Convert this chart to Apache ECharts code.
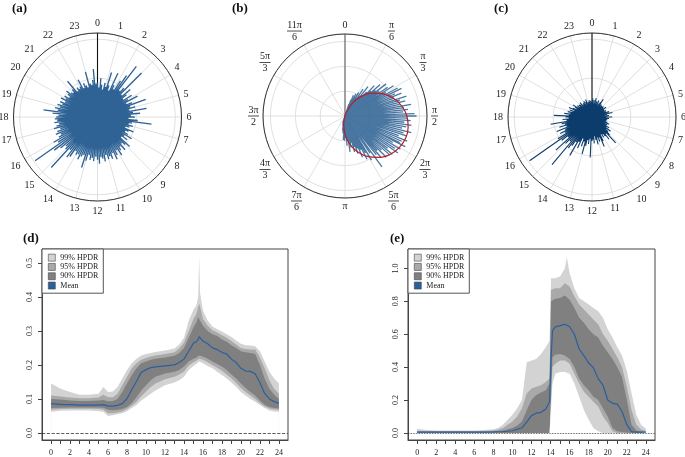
<!DOCTYPE html>
<html><head><meta charset="utf-8">
<script src="https://cdn.jsdelivr.net/npm/echarts@6/dist/echarts.min.js"></script>
<style>html,body{margin:0;padding:0;background:#fff}#c{width:685px;height:457px}</style>
</head><body><div id="c"></div><script>
// ---------- DATA ----------
// (a) spike lengths, 6 bins per hour (10-min bins), hours 0..23
const aRadii = [
 0.44,0.38,0.50,0.42,0.36,0.45, 0.40,0.60,0.43,0.37,0.62,0.46, 0.41,0.55,0.65,0.82,0.44,0.50,
 0.80,0.42,0.55,0.47,0.40,0.52, 0.45,0.58,0.41,0.48,0.66,0.44, 0.50,0.42,0.64,0.46,0.55,0.43,
 0.48,0.40,0.52,0.70,0.45,0.41, 0.47,0.43,0.38,0.50,0.44,0.40, 0.45,0.52,0.42,0.48,0.40,0.56,
 0.50,0.46,0.55,0.48,0.52,0.58, 0.49,0.55,0.60,0.50,0.57,0.53, 0.56,0.50,0.58,0.54,0.52,0.60,
 0.55,0.51,0.57,0.53,0.56,0.50, 0.58,0.68,0.52,0.55,0.60,0.54, 0.56,0.52,0.62,0.65,0.55,0.88,
 0.58,0.55,0.62,0.70,0.98,0.60, 0.65,0.56,0.52,0.58,0.55,0.50, 0.58,0.54,0.50,0.56,0.52,0.55,
 0.53,0.50,0.58,0.70,0.52,0.56, 0.50,0.54,0.48,0.52,0.46,0.53, 0.47,0.50,0.44,0.48,0.52,0.46,
 0.44,0.48,0.60,0.42,0.46,0.43, 0.45,0.54,0.41,0.47,0.43,0.40, 0.60,0.44,0.42,0.48,0.62,0.43
];
// (c) spike lengths, same bins
const cRadii = [
 0.20,0.24,0.16,0.22,0.18,0.25, 0.17,0.21,0.15,0.23,0.19,0.16, 0.22,0.27,0.18,0.20,0.15,0.19,
 0.16,0.20,0.14,0.18,0.22,0.15, 0.18,0.14,0.20,0.16,0.19,0.23, 0.17,0.27,0.20,0.16,0.22,0.19,
 0.26,0.18,0.22,0.17,0.20,0.15, 0.19,0.16,0.21,0.24,0.18,0.22, 0.20,0.26,0.22,0.30,0.24,0.28,
 0.32,0.45,0.28,0.36,0.30,0.26, 0.30,0.25,0.34,0.41,0.28,0.33, 0.27,0.36,0.30,0.25,0.34,0.29,
 0.31,0.52,0.28,0.35,0.30,0.38, 0.49,0.33,0.40,0.30,0.44,0.36, 0.57,0.38,0.45,0.50,0.80,0.42,
 0.48,0.63,0.40,0.49,0.98,0.52, 0.40,0.46,0.38,0.49,0.35,0.44, 0.36,0.40,0.54,0.33,0.38,0.30,
 0.34,0.49,0.30,0.36,0.28,0.32, 0.26,0.30,0.24,0.32,0.27,0.22, 0.25,0.29,0.21,0.24,0.20,0.23,
 0.22,0.18,0.24,0.20,0.17,0.21, 0.19,0.23,0.17,0.21,0.24,0.18, 0.20,0.16,0.22,0.18,0.21,0.19
];
const binsPerHour = 6;
const hourLabels = ['0','1','2','3','4','5','6','7','8','9','10','11','12','13','14','15','16','17','18','19','20','21','22','23'];

// (b) spikes: angle (degrees, clockwise from 0) and length
const bAngles = [18,20,22,24,26,28,30,32,34,36,38,40,42,44,46,48,50,52,54,56,58,60,62,64,66,68,70,72,74,76,78,80,82,84,86,88,90,92,94,96,98,100,102,104,106,108,110,112,114,116,117,119,121,123,125,127,129,131,133,135,137,139,141,144,146,149,151,153,155,157,159,161,163,165,167,169,172,174,176,178,181,184,187,190,194,198];
const bLengths = [0.5,0.7,0.9,0.6,1.0,0.87,1.1,0.8,1.3,1.0,1.5,1.07,1.3,1.7,1.45,1.9,1.6,2.1,1.7,2.07,2.3,1.9,2.4,2.53,2.2,2.45,2.1,2.6,2.3,2.5,2.25,2.7,2.4,2.55,2.35,2.8,2.88,2.5,2.65,2.4,2.7,2.5,2.35,2.75,2.45,2.6,2.3,2.7,2.5,2.45,2.72,2.2,2.6,2.4,2.6,2.15,2.45,2.4,2.0,2.35,1.9,2.2,2.0,2.53,1.8,2.07,1.7,1.95,1.5,1.8,1.4,1.6,1.3,1.5,1.1,1.3,1.46,1.0,1.2,0.9,1.0,0.97,0.7,0.6,0.4,0.3];
// (b) fitted density curve (red)
const bCurveAngles = [16.7,20,30,40,50,60,70,80,90,100,110,120,130,140,150,160,170,180,190,196.7];
const bCurveR = [0,0.15,0.60,1.03,1.43,1.78,2.08,2.32,2.49,2.58,2.60,2.53,2.39,2.17,1.89,1.55,1.17,0.75,0.30,0];
const bTickLabels = ['0','π/6','π/3','π/2','2π/3','5π/6','π','7π/6','4π/3','3π/2','5π/3','11π/6'];

// (d)
const dX    = [0,1,2,3,4,5,5.5,6,6.5,7,7.5,8,8.5,9,9.5,10,10.5,11,12,13,13.5,14,14.5,15,15.3,15.5,15.6,15.7,16,16.5,17,17.5,18,18.5,19,19.5,20,20.5,21,21.5,22,22.5,23,23.5,24];
const dMean = [.086,.084,.083,.082,.082,.082,.083,.079,.079,.081,.086,.101,.127,.152,.178,.186,.192,.194,.197,.200,.207,.217,.240,.264,.268,.275,.283,.283,.270,.262,.250,.245,.237,.232,.217,.207,.190,.182,.181,.174,.148,.116,.100,.092,.087];
const dHi90 = [.100,.098,.095,.094,.094,.095,.097,.093,.094,.100,.120,.145,.170,.190,.205,.210,.215,.218,.222,.227,.235,.250,.280,.310,.325,.340,.345,.340,.315,.300,.290,.285,.275,.268,.258,.250,.240,.237,.235,.232,.200,.160,.130,.112,.100];
const dHi95 = [.110,.107,.104,.102,.102,.104,.112,.105,.105,.115,.140,.165,.190,.205,.215,.220,.225,.228,.232,.237,.248,.265,.300,.335,.350,.370,.380,.370,.335,.315,.302,.295,.287,.280,.270,.260,.250,.247,.245,.245,.222,.190,.155,.130,.115];
const dHi99 = [.145,.130,.120,.112,.112,.115,.135,.120,.122,.135,.160,.185,.205,.218,.228,.232,.235,.238,.242,.248,.260,.280,.330,.362,.375,.400,.520,.410,.360,.330,.313,.305,.298,.290,.282,.272,.262,.258,.257,.255,.240,.210,.180,.160,.145];
const dLo90 = [.073,.074,.075,.075,.075,.075,.074,.068,.067,.068,.070,.076,.088,.105,.125,.140,.155,.165,.175,.180,.185,.195,.210,.218,.222,.226,.228,.228,.225,.218,.210,.203,.195,.185,.172,.160,.145,.132,.120,.110,.095,.083,.076,.073,.072];
const dLo95 = [.068,.070,.071,.071,.071,.070,.068,.058,.058,.060,.063,.070,.080,.092,.108,.122,.135,.145,.158,.165,.172,.180,.198,.208,.212,.216,.218,.218,.215,.208,.200,.192,.183,.172,.160,.147,.132,.120,.110,.100,.088,.078,.072,.069,.068];
const dLo99 = [.062,.065,.066,.066,.066,.064,.062,.050,.052,.055,.058,.064,.073,.082,.095,.105,.115,.125,.140,.148,.155,.165,.185,.197,.203,.207,.210,.210,.205,.197,.190,.180,.170,.160,.148,.135,.120,.110,.100,.092,.082,.073,.066,.063,.062];
const dYTicks = [0,0.1,0.2,0.3,0.4,0.5];

// (e)
const eX    = [0,1,2,3,4,5,6,7,8,8.5,9,9.5,10,10.5,11,11.5,12,12.5,13,13.5,13.9,14.05,14.2,14.5,15,15.5,15.7,16,16.5,17,17.5,18,18.5,19,19.5,20,20.5,21,21.5,22,22.5,23,23.5,24];
const eMean = [.005,.005,.005,.005,.005,.005,.005,.005,.006,.007,.008,.010,.013,.022,.030,.065,.105,.120,.125,.145,.190,.450,.620,.645,.652,.660,.665,.645,.600,.510,.470,.425,.395,.330,.290,.200,.180,.175,.130,.050,.008,.005,.005,.005];
const eHi90 = [.008,.008,.008,.008,.008,.008,.008,.008,.010,.012,.015,.022,.030,.045,.070,.140,.200,.230,.245,.260,.300,.800,.810,.815,.820,.835,.840,.810,.760,.700,.670,.630,.600,.580,.530,.490,.450,.400,.340,.200,.050,.015,.008,.008];
const eHi95 = [.012,.010,.010,.010,.010,.010,.010,.012,.015,.020,.030,.050,.070,.100,.150,.240,.270,.280,.290,.310,.330,.870,.875,.880,.880,.910,.920,.890,.830,.780,.750,.720,.690,.660,.600,.560,.510,.460,.400,.280,.140,.050,.020,.012];
const eHi99 = [.025,.018,.015,.015,.015,.015,.015,.018,.022,.030,.050,.080,.110,.150,.200,.430,.440,.450,.480,.520,.560,.940,.940,.940,.950,1.00,1.07,.970,.880,.820,.800,.780,.760,.740,.700,.630,.580,.520,.470,.380,.240,.110,.050,.025];
const eLo90 = [0,0,0,0,0,0,0,0,0,0,0,0,0,0,0,0,0,0,0,0,0,0,.460,.475,.480,.470,.460,.450,.400,.330,.290,.260,.220,.200,.150,.100,.030,.010,.005,.003,0,0,0,0];
const eLo95 = [0,0,0,0,0,0,0,0,0,0,0,0,0,0,0,0,0,0,0,0,0,0,.400,.420,.440,.440,.430,.420,.360,.300,.250,.220,.190,.160,.100,.060,.010,0,0,0,0,0,0,0];
const eLo99 = [0,0,0,0,0,0,0,0,0,0,0,0,0,0,0,0,0,0,0,0,0,0,.300,.360,.370,.370,.370,.360,.300,.220,.140,.080,.030,.010,0,0,0,0,0,0,0,0,0,0];
const eYTicks = [0,0.2,0.4,0.6,0.8,1.0];

const xTicks = [0,1,2,3,4,5,6,7,8,9,10,11,12,13,14,15,16,17,18,19,20,21,22,23,24];
const xLabels = [0,2,4,6,8,10,12,14,16,18,20,22,24];

// ---------- BUILD ----------
const FONT = 'Liberation Serif, DejaVu Serif, serif';
const LIGHT = '#d3d3d3', MID = '#a9a9a9', DARK = '#808080', MEANC = '#2a5f9e';

function spikes(radii, angles) {
  const d = [];
  radii.forEach((r, i) => { d.push([0, angles[i]], [r, angles[i]], ['-', '-']); });
  return d;
}
const hourAngles = aRadii.map((_, i) => i / binsPerHour);
const bAngleUnits = bAngles.map(a => a / 30);

function polarAngleAxis(idx, max, labelFmt, extraLabel) {
  return {
    polarIndex: idx, type: 'value', min: 0, max: max, interval: 1,
    startAngle: 90, clockwise: true,
    axisLine: { lineStyle: { color: '#333', width: 1 } },
    axisTick: { show: false },
    axisLabel: Object.assign({ margin: 5, fontSize: 10, fontFamily: FONT, color: '#222', formatter: labelFmt }, extraLabel || {}),
    splitLine: { show: true, lineStyle: { color: '#d8d8d8', width: 0.8 } }
  };
}
function polarRadiusAxis(idx, max, interval) {
  return {
    polarIndex: idx, type: 'value', min: 0, max: max, interval: interval,
    axisLine: { show: false }, axisTick: { show: false }, axisLabel: { show: false },
    splitLine: { show: true, lineStyle: { color: '#d8d8d8', width: 0.8 } }
  };
}
function fracLabel(v) {
  const s = bTickLabels[Math.round(v)];
  if (s === undefined) return '';
  if (s.indexOf('/') < 0) return '{n|' + s + '}';
  const p = s.split('/');
  const bar = p[0].length >= 3 ? 'l3' : (p[0].length === 2 ? 'l2' : 'l1');
  return '{n|' + p[0] + '}\n{' + bar + '| }\n{n|' + p[1] + '}';
}
const barStyle = (w) => ({ width: w, height: 0.8, lineHeight: 3, fontSize: 1, backgroundColor: '#222', align: 'center' });

function bandSeries(gridIdx, xs, hi99, hi95, hi90, lo90, lo95, lo99, mean, zeroType) {
  const zip = arr => xs.map((x, i) => [x, arr[i]]);
  const area = (name, arr, col) => ({
    name: name, type: 'line', xAxisIndex: gridIdx, yAxisIndex: gridIdx, data: zip(arr),
    symbol: 'none', color: col, itemStyle: { color: col }, lineStyle: { width: 0 },
    areaStyle: { color: col, opacity: 1 }, silent: true, z: 2
  });
  return [
    area('99% HPDR', hi99, LIGHT),
    area('95% HPDR', hi95, MID),
    area('90% HPDR', hi90, DARK),
    area('95% HPDR', lo90, MID),
    area('99% HPDR', lo95, LIGHT),
    area('base', lo99, '#ffffff'),
    {
      name: 'Mean', type: 'line', xAxisIndex: gridIdx, yAxisIndex: gridIdx, data: zip(mean),
      symbol: 'none', color: MEANC, itemStyle: { color: MEANC }, lineStyle: { width: 1.2, color: MEANC }, z: 3,
      markLine: { silent: true, symbol: 'none', label: { show: false },
        lineStyle: { color: '#333', width: 0.8, type: zeroType }, data: [{ yAxis: 0 }] }
    }
  ];
}
function xAxisCfg(idx) {
  return {
    gridIndex: idx, type: 'value', min: -0.96, max: 24.96,
    axisLine: { show: true, onZero: false, lineStyle: { color: '#444', width: 1 } },
    axisTick: { show: true, length: 4, customValues: xTicks, lineStyle: { color: '#444' } },
    axisLabel: { customValues: xLabels, margin: 9, fontSize: 8, fontFamily: FONT, color: '#222' },
    splitLine: { show: false }
  };
}
function yAxisCfg(idx, min, max, ticks) {
  return {
    gridIndex: idx, type: 'value', min: min, max: max,
    axisLine: { show: true, onZero: false, lineStyle: { color: '#444', width: 1 } },
    axisTick: { show: true, length: 4, customValues: ticks, lineStyle: { color: '#444' } },
    axisLabel: { customValues: ticks, rotate: 90, margin: 8, fontSize: 8, fontFamily: FONT, color: '#222',
      formatter: v => v.toFixed(1) },
    splitLine: { show: false }
  };
}
function legendCfg(left) {
  return {
    left: left, top: 249, orient: 'vertical', icon: 'rect', selectedMode: false,
    data: ['99% HPDR', '95% HPDR', '90% HPDR', 'Mean'],
    itemWidth: 7, itemHeight: 7, itemGap: 0, padding: [4, 5, 3, 6],
    backgroundColor: '#fff', borderColor: '#555', borderWidth: 1,
    itemStyle: { borderColor: '#444', borderWidth: 0.6 },
    textStyle: { fontSize: 8, fontFamily: FONT, color: '#222', lineHeight: 9.3 }
  };
}
const titleCfg = (t, l, tp) => ({ text: t, left: l, top: tp, padding: 0,
  textStyle: { fontSize: 13, fontWeight: 'bold', fontFamily: FONT, color: '#111' } });

const chart = echarts.init(document.getElementById('c'), null, { renderer: 'canvas' });
chart.setOption({
  animation: false,
  backgroundColor: '#fff',
  title: [titleCfg('(a)', 12, 2), titleCfg('(b)', 232, 2), titleCfg('(c)', 494, 2), titleCfg('(d)', 23, 232), titleCfg('(e)', 390, 232)],
  polar: [
    { center: [97.5, 117], radius: 84 },
    { center: [345, 116], radius: 82 },
    { center: [592, 117], radius: 84 }
  ],
  angleAxis: [
    polarAngleAxis(0, 24, v => hourLabels[Math.round(v)] || ''),
    polarAngleAxis(1, 12, fracLabel, { margin: 4, rich: {
      n: { fontSize: 10, lineHeight: 9, fontFamily: FONT, color: '#222', align: 'center' },
      l1: barStyle(7), l2: barStyle(11), l3: barStyle(15) } }),
    polarAngleAxis(2, 24, v => hourLabels[Math.round(v)] || '')
  ],
  radiusAxis: [polarRadiusAxis(0, 1.08, 0.5), polarRadiusAxis(1, 3.3, 1), polarRadiusAxis(2, 1.08, 0.5)],
  grid: [
    { left: 42, right: 397, top: 249, bottom: 17, show: true, borderColor: '#444', borderWidth: 1 },
    { left: 408, right: 30, top: 249, bottom: 17, show: true, borderColor: '#444', borderWidth: 1 }
  ],
  xAxis: [xAxisCfg(0), xAxisCfg(1)],
  yAxis: [yAxisCfg(0, -0.0208, 0.5408, dYTicks), yAxisCfg(1, -0.0431, 1.1179, eYTicks)],
  legend: [legendCfg(42), legendCfg(408)],
  series: [
    { type: 'line', coordinateSystem: 'polar', polarIndex: 0, data: [[0, 0], [1.08, 0]], symbol: 'none', lineStyle: { color: '#111', width: 1.1 }, silent: true },
    { type: 'line', coordinateSystem: 'polar', polarIndex: 0, data: spikes(aRadii, hourAngles), symbol: 'none', connectNulls: false, lineStyle: { color: '#2f6396', width: 1.35 }, silent: true },
    { type: 'line', coordinateSystem: 'polar', polarIndex: 1, data: [[0, 0], [3.3, 0]], symbol: 'none', lineStyle: { color: '#555', width: 1 }, silent: true },
    { type: 'line', coordinateSystem: 'polar', polarIndex: 1, data: spikes(bLengths, bAngleUnits), symbol: 'none', connectNulls: false, lineStyle: { color: '#2a5f92', width: 1.3, opacity: 0.85 }, silent: true },
    { type: 'line', coordinateSystem: 'polar', polarIndex: 1, data: bCurveR.map((r, i) => [r, bCurveAngles[i] / 30]), symbol: 'none', smooth: 0.3, lineStyle: { color: '#b3202a', width: 1.2 }, silent: true },
    { type: 'line', coordinateSystem: 'polar', polarIndex: 2, data: [[0, 0], [1.08, 0]], symbol: 'none', lineStyle: { color: '#111', width: 1.1 }, silent: true },
    { type: 'line', coordinateSystem: 'polar', polarIndex: 2, data: spikes(cRadii, hourAngles), symbol: 'none', connectNulls: false, lineStyle: { color: '#0c3c6c', width: 1.1 }, silent: true },
    ...bandSeries(0, dX, dHi99, dHi95, dHi90, dLo90, dLo95, dLo99, dMean, 'dashed'),
    ...bandSeries(1, eX, eHi99, eHi95, eHi90, eLo90, eLo95, eLo99, eMean, 'dotted')
  ]
});
</script></body></html>
